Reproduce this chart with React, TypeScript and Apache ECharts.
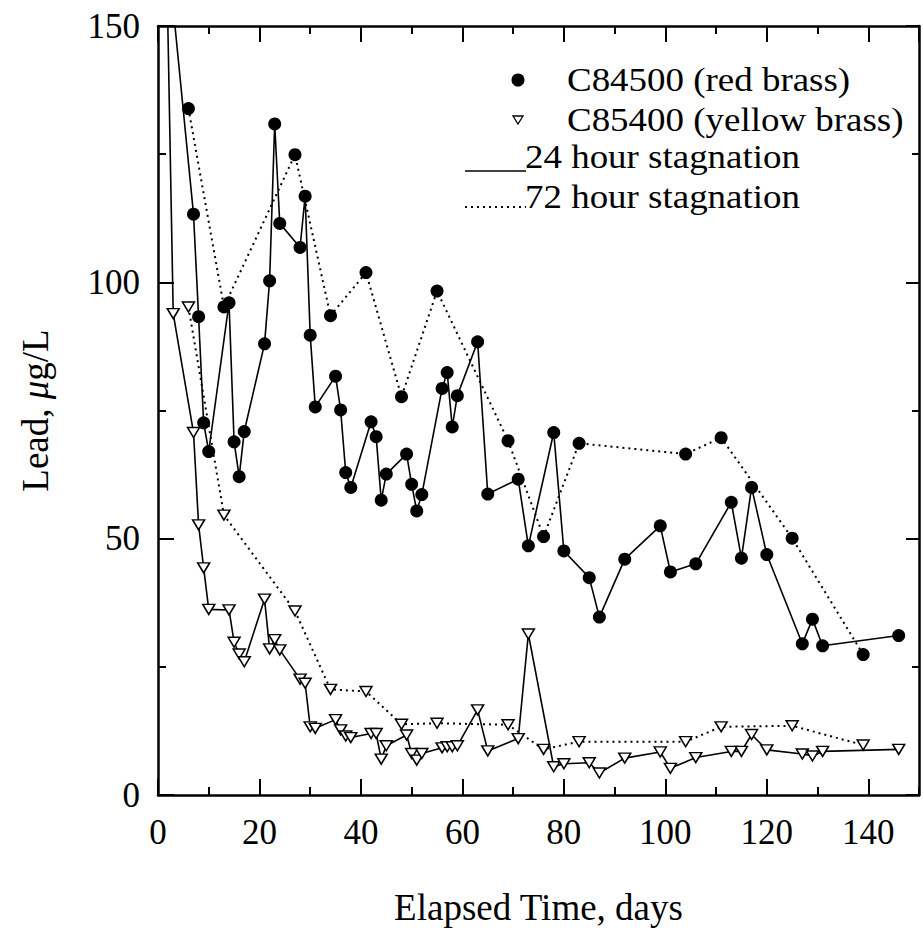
import React, { useEffect, useRef } from "react";
import * as echarts from "echarts";

// Elapsed time (days) and lead (µg/L)
const red24Days = [3, 7, 8, 9, 10, 14, 15, 16, 17, 21, 22, 23, 24, 28, 29, 30, 31, 35, 36, 37, 38, 42, 43, 44, 45, 49, 50, 51, 52, 56, 57, 58, 59, 63, 65, 71, 73, 78, 80, 85, 87, 92, 99, 101, 106, 113, 115, 117, 120, 127, 129, 131, 146];
const red24Lead = [153.5, 113.3, 93.3, 72.6, 67.0, 96.0, 68.9, 62.1, 70.9, 88.0, 100.3, 130.9, 111.5, 106.8, 116.8, 89.7, 75.7, 81.7, 75.1, 62.9, 60.0, 72.8, 69.9, 57.5, 62.6, 66.5, 60.6, 55.4, 58.6, 79.3, 82.4, 71.8, 77.9, 88.4, 58.7, 61.6, 48.6, 70.7, 47.6, 42.4, 34.7, 46.0, 52.5, 43.5, 45.1, 57.1, 46.2, 60.0, 46.9, 29.5, 34.3, 29.1, 31.1];

const red72Days = [6, 13, 27, 34, 41, 48, 55, 69, 76, 83, 104, 111, 125, 139];
const red72Lead = [133.9, 95.2, 124.9, 93.5, 101.9, 77.7, 98.3, 69.1, 50.4, 68.6, 66.5, 69.7, 50.1, 27.4];

const yellow24Days = [1, 3, 7, 8, 9, 10, 14, 15, 16, 17, 21, 22, 23, 24, 28, 29, 30, 31, 35, 36, 37, 38, 42, 43, 44, 45, 49, 50, 51, 52, 56, 57, 58, 59, 63, 65, 71, 73, 78, 80, 85, 87, 92, 99, 101, 106, 113, 115, 117, 120, 127, 129, 131, 146];
const yellow24Lead = [200, 93.9, 70.7, 52.7, 44.3, 36.2, 36.1, 29.8, 27.5, 26.0, 38.2, 28.5, 30.3, 28.3, 22.6, 21.8, 13.3, 13.0, 14.7, 12.7, 11.5, 11.2, 12.0, 12.0, 7.0, 9.6, 11.7, 8.1, 6.8, 8.1, 9.2, 9.4, 9.4, 9.6, 16.6, 8.6, 11.0, 31.4, 5.5, 6.1, 6.3, 4.3, 7.2, 8.4, 5.2, 7.3, 8.5, 8.5, 11.8, 8.8, 8.0, 7.6, 8.5, 8.9];

const yellow72Days = [6, 13, 27, 34, 41, 48, 55, 69, 76, 83, 104, 111, 125, 139];
const yellow72Lead = [95.2, 54.6, 35.9, 20.6, 20.2, 13.8, 14.0, 13.7, 8.9, 10.4, 10.4, 13.3, 13.5, 9.75];

const legendLabels = ["C84500 (red brass)", "C85400 (yellow brass)", "24 hour stagnation", "72 hour stagnation"];

const FONT = "'Liberation Serif', 'Times New Roman', serif";
const zip = (xs: number[], ys: number[]) => xs.map((x, i) => [x, ys[i]]);

export default function App() {
  const ref = useRef<HTMLDivElement>(null);
  useEffect(() => {
    const chart = echarts.init(ref.current!, null, { renderer: "svg" });
    const baseX = {
      type: "value",
      min: 0,
      max: 150,
      splitLine: { show: false },
      axisLine: { onZero: false },
    };
    const legendText = (text: string, x: number, y: number) => ({
      type: "text",
      x,
      y,
      scaleX: 1.12,
      z: 10,
      style: {
        text,
        fill: "#000",
        fontFamily: FONT,
        fontSize: 33,
        lineHeight: 30,
        verticalAlign: "middle",
        align: "left",
      },
    });
    const option: any = {
      animation: false,
      backgroundColor: "#fff",
      grid: { left: 158, right: 4, top: 26, bottom: 142, containLabel: false },
      xAxis: [
        {
          ...baseX,
          position: "bottom",
          interval: 20,
          axisLine: { show: true, onZero: false, lineStyle: { color: "#000", width: 2.5 } },
          axisTick: { show: true, inside: true, length: 16, lineStyle: { color: "#000", width: 2 } },
          axisLabel: { show: true, showMaxLabel: false, margin: 20, color: "#000", fontFamily: FONT, fontSize: 35 },
          name: "Elapsed Time, days",
          nameLocation: "middle",
          nameGap: 94,
          nameTextStyle: { color: "#000", fontFamily: FONT, fontSize: 37 },
        },
        {
          ...baseX,
          position: "bottom",
          interval: 10,
          axisLine: { show: false, onZero: false },
          axisTick: { show: true, inside: true, length: 8, lineStyle: { color: "#000", width: 2 } },
          axisLabel: { show: false },
        },
        {
          ...baseX,
          position: "top",
          interval: 20,
          axisLine: { show: true, onZero: false, lineStyle: { color: "#000", width: 2.5 } },
          axisTick: { show: true, inside: true, length: 16, lineStyle: { color: "#000", width: 2 } },
          axisLabel: { show: false },
        },
        {
          ...baseX,
          position: "top",
          interval: 10,
          axisLine: { show: false, onZero: false },
          axisTick: { show: true, inside: true, length: 8, lineStyle: { color: "#000", width: 2 } },
          axisLabel: { show: false },
        },
      ],
      yAxis: [
        {
          type: "value",
          position: "left",
          min: 0,
          max: 150,
          interval: 50,
          splitLine: { show: false },
          axisLine: { show: true, onZero: false, lineStyle: { color: "#000", width: 2.5 } },
          axisTick: { show: true, inside: true, length: 16, lineStyle: { color: "#000", width: 2 } },
          minorTick: { show: true, splitNumber: 2, length: 8, lineStyle: { color: "#000", width: 2 } },
          axisLabel: { show: true, margin: 18, color: "#000", fontFamily: FONT, fontSize: 35 },
          name: "Lead, {i|\u03bc}g/L",
          nameLocation: "middle",
          nameGap: 104,
          nameTextStyle: {
            color: "#000",
            fontFamily: FONT,
            fontSize: 37,
            rich: { i: { fontStyle: "italic", fontFamily: FONT, fontSize: 37, color: "#000" } },
          },
        },
        {
          type: "value",
          position: "right",
          min: 0,
          max: 150,
          interval: 50,
          splitLine: { show: false },
          axisLine: { show: true, onZero: false, lineStyle: { color: "#000", width: 2.5 } },
          axisTick: { show: true, inside: true, length: 13, lineStyle: { color: "#000", width: 2 } },
          minorTick: { show: true, splitNumber: 2, length: 7, lineStyle: { color: "#000", width: 2 } },
          axisLabel: { show: false },
        },
      ],
      series: [
        {
          name: "red24",
          type: "line",
          data: zip(red24Days, red24Lead),
          symbol: "circle",
          symbolSize: 13,
          itemStyle: { color: "#000" },
          lineStyle: { color: "#000", width: 1.6, type: "solid" },
          clip: true,
          z: 3,
        },
        {
          name: "red72",
          type: "line",
          data: zip(red72Days, red72Lead),
          symbol: "circle",
          symbolSize: 13,
          itemStyle: { color: "#000" },
          lineStyle: { color: "#000", width: 2, type: [2, 4] },
          clip: true,
          z: 3,
        },
        {
          name: "yellow24",
          type: "line",
          data: zip(yellow24Days, yellow24Lead),
          symbol: "triangle",
          symbolRotate: 180,
          symbolSize: [12, 10],
          itemStyle: { color: "#fff", borderColor: "#000", borderWidth: 1.5 },
          lineStyle: { color: "#000", width: 1.6, type: "solid" },
          clip: true,
          z: 4,
        },
        {
          name: "yellow72",
          type: "line",
          data: zip(yellow72Days, yellow72Lead),
          symbol: "triangle",
          symbolRotate: 180,
          symbolSize: [12, 10],
          itemStyle: { color: "#fff", borderColor: "#000", borderWidth: 1.5 },
          lineStyle: { color: "#000", width: 2, type: [2, 4] },
          clip: true,
          z: 4,
        },
      ],
      graphic: [
        { type: "circle", shape: { cx: 518, cy: 80, r: 6.5 }, style: { fill: "#000" }, z: 10 },
        legendText(legendLabels[0], 567, 80),
        {
          type: "polygon", z: 10,
          shape: { points: [[513, 116], [523, 116], [518, 124]] },
          style: { fill: "#fff", stroke: "#000", lineWidth: 1.3 },
        },
        legendText(legendLabels[1], 567, 120),
        {
          type: "line", z: 10,
          shape: { x1: 465, y1: 171, x2: 526, y2: 171 },
          style: { stroke: "#000", lineWidth: 1.6 },
        },
        legendText(legendLabels[2], 525, 157),
        {
          type: "line", z: 10,
          shape: { x1: 465, y1: 207, x2: 526, y2: 207 },
          style: { stroke: "#000", lineWidth: 2, lineDash: [2, 4] },
        },
        legendText(legendLabels[3], 525, 197),
      ],
    };
    chart.setOption(option);
    return () => chart.dispose();
  }, []);
  return (
    <div
      ref={ref}
      style={{ position: "fixed", left: 0, top: 0, width: 923, height: 937, background: "#fff" }}
    />
  );
}
